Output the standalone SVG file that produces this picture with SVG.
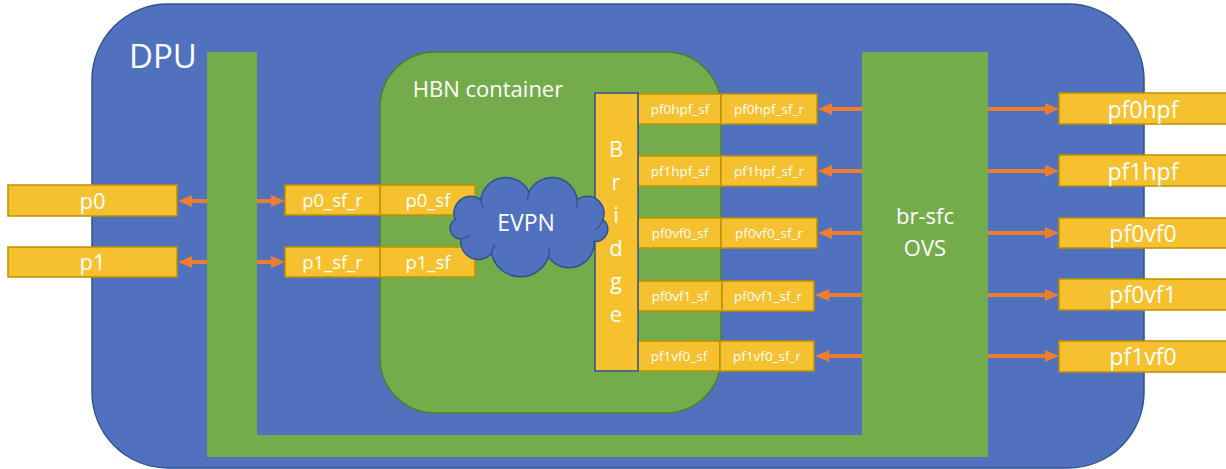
<svg xmlns="http://www.w3.org/2000/svg" width="1226" height="469" viewBox="0 0 1226 469">
  <style>
    .dpu { fill: #4F71BE; stroke: #2F528F; stroke-width: 1.5; }
    .bar { fill: #74AC4C; }
    .hbn { fill: #74AC4C; stroke: #507E32; stroke-width: 1.5; }
    .port { fill: #F6C12F; stroke: #BF9000; stroke-width: 1.5; }
    .bridge { fill: #F6C12F; stroke: #2F528F; stroke-width: 1.5; }
    .cloud { fill: #4F71BE; stroke: #2F528F; stroke-width: 1.5; }
    .cloud-line { fill: none; stroke: #2F528F; stroke-width: 1.2; }
    text { font-family: "Open Sans", "Liberation Sans", sans-serif; fill: #FFFFFF; text-anchor: middle; }
    .big { font-size: 23px; }
    .mid { font-size: 18.5px; }
    .small { font-size: 13.5px; }
    .link { stroke: #ED7D31; stroke-width: 4; fill: none; marker-end: url(#arrow); }
  </style>
  <defs>
    <marker id="arrow" markerUnits="userSpaceOnUse" markerWidth="14" markerHeight="12" refX="4" refY="6" orient="auto">
      <path d="M0,0 L14,6 L0,12 Z" fill="#ED7D31"/>
    </marker>
  </defs>

  <!-- DPU enclosure -->
  <g id="dpu">
    <rect class="dpu" x="92" y="4" width="1052" height="464" rx="76" ry="76"/>
    <text x="163" y="68" style="font-size:33px">DPU</text>
  </g>

  <!-- uplink bar on the left, joined along the bottom to the OVS bridge -->
  <g id="uplink-bar">
    <path class="bar" d="M207,52 H257 V435 H862 V457 H207 Z"/>
  </g>

  <!-- br-sfc OVS -->
  <g id="br-sfc">
    <rect class="bar" x="862" y="52" width="126" height="405"/>
    <text x="925" y="224" style="font-size:22px">br-sfc</text>
    <text x="925" y="256" style="font-size:22px">OVS</text>
  </g>

  <!-- HBN container -->
  <g id="hbn-container">
    <rect class="hbn" x="380" y="52" width="341" height="361" rx="55" ry="55"/>
    <text x="488" y="97" style="font-size:22px">HBN container</text>
  </g>

  <!-- uplink ports -->
  <g id="p0">
    <rect class="port" x="8" y="185" width="169" height="31"/>
    <text x="92.5" y="209" style="font-size:22px">p0</text>
  </g>
  <g id="p1">
    <rect class="port" x="8" y="247" width="169" height="30"/>
    <text x="92.5" y="270" style="font-size:22px">p1</text>
  </g>

  <!-- uplink SF representors -->
  <g id="p0_sf_r">
    <rect class="port" x="285" y="185" width="95" height="30"/>
    <text class="mid" x="332.5" y="207">p0_sf_r</text>
  </g>
  <g id="p1_sf_r">
    <rect class="port" x="285" y="247" width="95" height="30"/>
    <text class="mid" x="332.5" y="269">p1_sf_r</text>
  </g>
  <g id="p0_sf">
    <rect class="port" x="380" y="185" width="95" height="30"/>
    <text class="mid" x="428" y="207">p0_sf</text>
  </g>
  <g id="p1_sf">
    <rect class="port" x="380" y="247" width="95" height="30"/>
    <text class="mid" x="428" y="269">p1_sf</text>
  </g>

  <!-- host-side SFs inside the container -->
  <g id="pf0hpf_sf">
    <rect class="port" x="638" y="94" width="83" height="30"/>
    <text class="small" x="680" y="114">pf0hpf_sf</text>
  </g>
  <g id="pf1hpf_sf">
    <rect class="port" x="638" y="156" width="83" height="30"/>
    <text class="small" x="680" y="176">pf1hpf_sf</text>
  </g>
  <g id="pf0vf0_sf">
    <rect class="port" x="638" y="218" width="83" height="30"/>
    <text class="small" x="680" y="238">pf0vf0_sf</text>
  </g>
  <g id="pf0vf1_sf">
    <rect class="port" x="638" y="281" width="84" height="30"/>
    <text class="small" x="680" y="301">pf0vf1_sf</text>
  </g>
  <g id="pf1vf0_sf">
    <rect class="port" x="638" y="341" width="82" height="30"/>
    <text class="small" x="679" y="361">pf1vf0_sf</text>
  </g>

  <!-- host-side SF representors -->
  <g id="pf0hpf_sf_r">
    <rect class="port" x="721" y="94" width="96" height="30"/>
    <text class="small" x="769" y="114">pf0hpf_sf_r</text>
  </g>
  <g id="pf1hpf_sf_r">
    <rect class="port" x="721" y="156" width="96" height="30"/>
    <text class="small" x="769" y="176">pf1hpf_sf_r</text>
  </g>
  <g id="pf0vf0_sf_r">
    <rect class="port" x="721" y="218" width="96" height="30"/>
    <text class="small" x="769" y="238">pf0vf0_sf_r</text>
  </g>
  <g id="pf0vf1_sf_r">
    <rect class="port" x="722" y="281" width="92" height="30"/>
    <text class="small" x="768" y="301">pf0vf1_sf_r</text>
  </g>
  <g id="pf1vf0_sf_r">
    <rect class="port" x="720" y="341" width="94" height="30"/>
    <text class="small" x="767" y="361">pf1vf0_sf_r</text>
  </g>

  <!-- Bridge -->
  <g id="bridge">
    <rect class="bridge" x="595" y="93" width="43" height="278"/>
    <text x="616" y="157" style="font-size:22px">B</text>
    <text x="616" y="190" style="font-size:22px">r</text>
    <text x="616" y="223" style="font-size:22px">i</text>
    <text x="616" y="256" style="font-size:22px">d</text>
    <text x="616" y="289" style="font-size:22px">g</text>
    <text x="616" y="322" style="font-size:22px">e</text>
  </g>

  <!-- EVPN cloud -->
  <g id="evpn">
    <path class="cloud" d="M455.1,219.3
      A16.8,16.8 0 0 1 480.8,199.7
      A25.4,25.4 0 0 1 529,192
      A25.4,25.4 0 0 1 577.2,199.7
      A16.8,16.8 0 0 1 602.9,219.3
      A12.4,12.4 0 0 1 594,241.5
      A25,25 0 0 1 548.4,256.9
      A29.6,29.6 0 0 1 491.5,253.6
      A17.6,17.6 0 0 1 461,239
      A10.7,10.7 0 0 1 455.1,219.3 Z"/>
    <path class="cloud-line" d="M480.8,199.7 Q481,205 484,209"/>
    <path class="cloud-line" d="M529,192 Q527,197 528,201"/>
    <path class="cloud-line" d="M577.2,199.7 Q578,204 576,208"/>
    <path class="cloud-line" d="M602.9,219.3 Q601,226 595,230"/>
    <path class="cloud-line" d="M548.4,256.9 Q550,251 549,247"/>
    <path class="cloud-line" d="M491.5,253.6 Q492,248 495,245"/>
    <path class="cloud-line" d="M461,239 Q466,238 470,235"/>
    <text x="526" y="231" style="font-size:23px">EVPN</text>
  </g>

  <!-- host-facing ports -->
  <g id="pf0hpf">
    <rect class="port" x="1059" y="93" width="168" height="31"/>
    <text class="big" x="1143" y="118">pf0hpf</text>
  </g>
  <g id="pf1hpf">
    <rect class="port" x="1059" y="155" width="168" height="31"/>
    <text class="big" x="1143" y="180">pf1hpf</text>
  </g>
  <g id="pf0vf0">
    <rect class="port" x="1059" y="218" width="168" height="30"/>
    <text class="big" x="1143" y="242">pf0vf0</text>
  </g>
  <g id="pf0vf1">
    <rect class="port" x="1059" y="279" width="168" height="31"/>
    <text class="big" x="1143" y="303">pf0vf1</text>
  </g>
  <g id="pf1vf0">
    <rect class="port" x="1059" y="341" width="168" height="31"/>
    <text class="big" x="1143" y="365">pf1vf0</text>
  </g>

  <!-- connectors -->
  <g id="connectors">
    <line class="link" x1="207" y1="201" x2="188" y2="201"/>
    <line class="link" x1="257" y1="201" x2="275" y2="201"/>
    <line class="link" x1="207" y1="262" x2="188" y2="262"/>
    <line class="link" x1="257" y1="262" x2="275" y2="262"/>

    <line class="link" x1="862" y1="109" x2="828" y2="109"/>
    <line class="link" x1="862" y1="171" x2="828" y2="171"/>
    <line class="link" x1="862" y1="233" x2="828" y2="233"/>
    <line class="link" x1="862" y1="295" x2="825" y2="295"/>
    <line class="link" x1="862" y1="356" x2="825" y2="356"/>

    <line class="link" x1="988" y1="109" x2="1049" y2="109"/>
    <line class="link" x1="988" y1="171" x2="1049" y2="171"/>
    <line class="link" x1="988" y1="233" x2="1049" y2="233"/>
    <line class="link" x1="988" y1="295" x2="1049" y2="295"/>
    <line class="link" x1="988" y1="356" x2="1049" y2="356"/>
  </g>
</svg>
